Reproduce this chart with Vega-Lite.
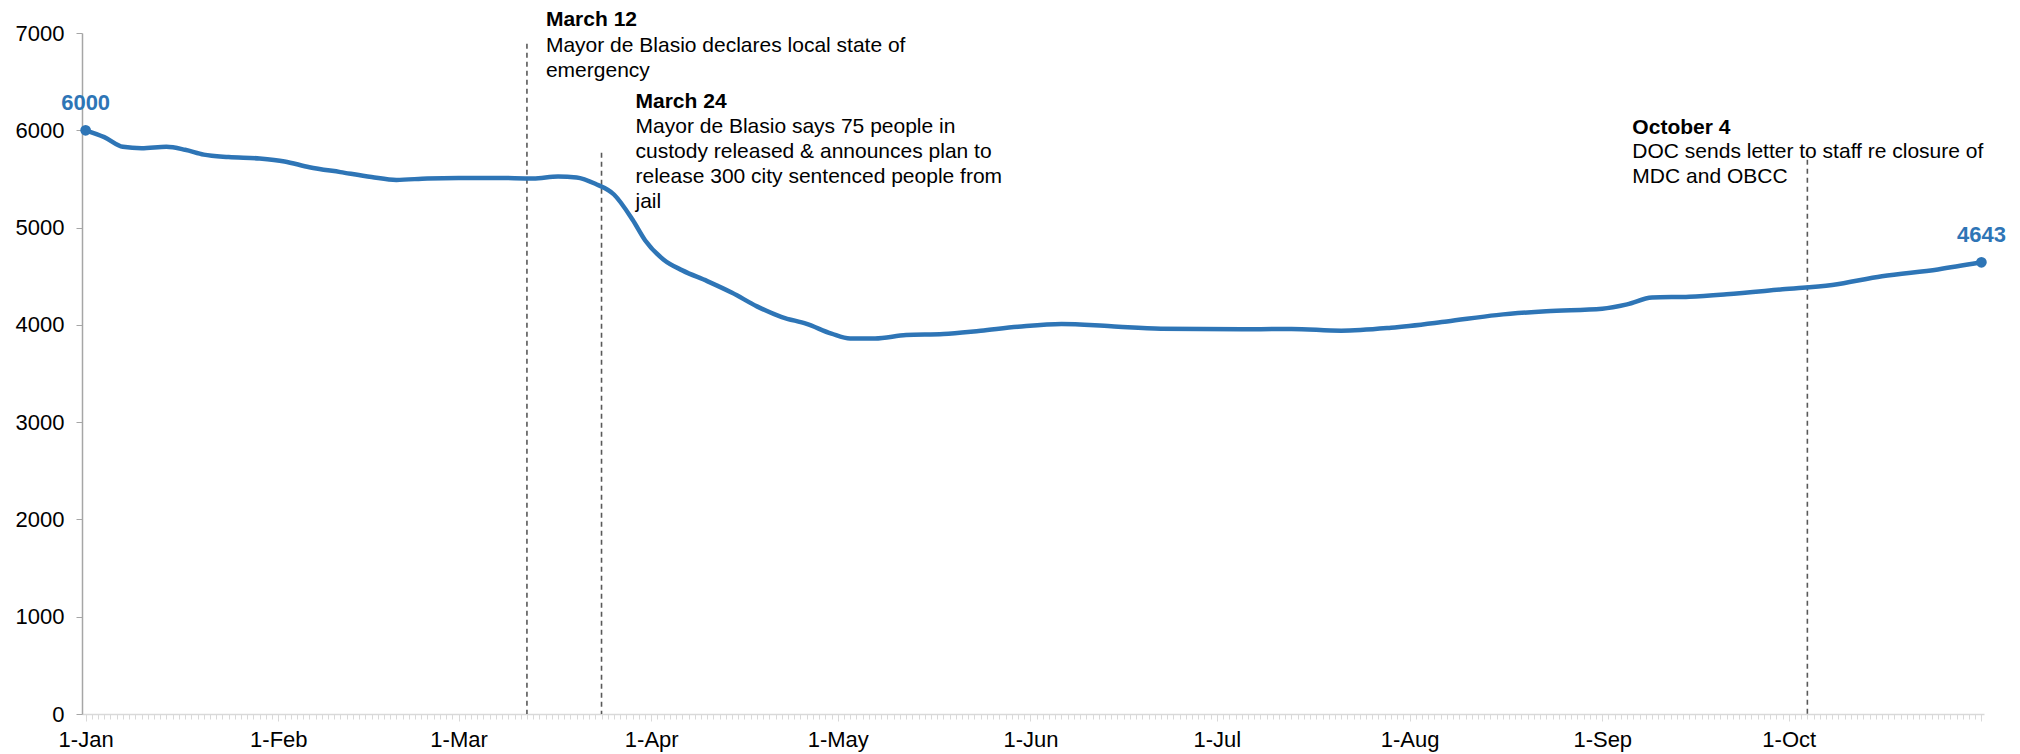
{
  "$schema": "https://vega.github.io/schema/vega-lite/v6.json",
  "autosize": {"type": "none"},
  "padding": {"left": 82, "top": 33, "right": 36, "bottom": 40},
  "width": 1902,
  "height": 681,
  "background": "white",
  "config": {"view": {"stroke": null}, "font": "Liberation Sans"},
  "datasets": {
    "series": [
      {"date": "2020-01-01", "count": 6000},
      {"date": "2020-01-04", "count": 5930},
      {"date": "2020-01-07", "count": 5830},
      {"date": "2020-01-10", "count": 5815},
      {"date": "2020-01-14", "count": 5830},
      {"date": "2020-01-17", "count": 5800},
      {"date": "2020-01-20", "count": 5750},
      {"date": "2020-01-24", "count": 5725},
      {"date": "2020-01-29", "count": 5710},
      {"date": "2020-02-02", "count": 5680},
      {"date": "2020-02-06", "count": 5620},
      {"date": "2020-02-11", "count": 5570},
      {"date": "2020-02-16", "count": 5520},
      {"date": "2020-02-20", "count": 5490},
      {"date": "2020-02-25", "count": 5505},
      {"date": "2020-03-01", "count": 5510},
      {"date": "2020-03-07", "count": 5510},
      {"date": "2020-03-13", "count": 5505},
      {"date": "2020-03-17", "count": 5525},
      {"date": "2020-03-20", "count": 5515},
      {"date": "2020-03-23", "count": 5450},
      {"date": "2020-03-26", "count": 5340},
      {"date": "2020-03-29", "count": 5080},
      {"date": "2020-03-31", "count": 4870},
      {"date": "2020-04-03", "count": 4670},
      {"date": "2020-04-06", "count": 4560},
      {"date": "2020-04-10", "count": 4450},
      {"date": "2020-04-14", "count": 4330},
      {"date": "2020-04-18", "count": 4190},
      {"date": "2020-04-22", "count": 4080},
      {"date": "2020-04-26", "count": 4010},
      {"date": "2020-04-30", "count": 3910},
      {"date": "2020-05-03", "count": 3860},
      {"date": "2020-05-07", "count": 3860},
      {"date": "2020-05-12", "count": 3895},
      {"date": "2020-05-18", "count": 3905},
      {"date": "2020-05-24", "count": 3940},
      {"date": "2020-05-30", "count": 3980},
      {"date": "2020-06-06", "count": 4010},
      {"date": "2020-06-14", "count": 3985},
      {"date": "2020-06-22", "count": 3960},
      {"date": "2020-07-05", "count": 3955},
      {"date": "2020-07-13", "count": 3958},
      {"date": "2020-07-21", "count": 3940},
      {"date": "2020-07-29", "count": 3970},
      {"date": "2020-08-07", "count": 4035},
      {"date": "2020-08-15", "count": 4100},
      {"date": "2020-08-23", "count": 4140},
      {"date": "2020-09-01", "count": 4165},
      {"date": "2020-09-05", "count": 4210},
      {"date": "2020-09-09", "count": 4280},
      {"date": "2020-09-15", "count": 4290},
      {"date": "2020-09-21", "count": 4315},
      {"date": "2020-09-30", "count": 4365},
      {"date": "2020-10-08", "count": 4410},
      {"date": "2020-10-16", "count": 4500},
      {"date": "2020-10-25", "count": 4570},
      {"date": "2020-11-01", "count": 4643}
    ],
    "ends": [
      {"date": "2020-01-01", "count": 6000, "label": "6000"},
      {"date": "2020-11-01", "count": 4643, "label": "4643"}
    ],
    "events": [
      {"event": "March 12", "date": "2020-03-12", "top": 6890, "body": ["Mayor de Blasio declares local state of", "emergency"]},
      {"event": "March 24", "date": "2020-03-24", "top": 5770, "body": ["Mayor de Blasio says 75 people in", "custody released & announces plan to", "release 300 city sentenced people from", "jail"]},
      {"event": "October 4", "date": "2020-10-04", "top": 5790, "body": ["DOC sends letter to staff re closure of", "MDC and OBCC"]}
    ]
  },
  "encoding": {
    "x": {
      "field": "date",
      "type": "temporal",
      "scale": {
        "type": "utc",
        "domain": [
          {"year": 2019, "month": 12, "date": 31, "hours": 10, "utc": true},
          {"year": 2020, "month": 11, "date": 1, "hours": 10, "utc": true}
        ]
      },
      "axis": {
        "title": null,
        "grid": false,
        "tickCount": {"interval": "day", "step": 1},
        "labelExpr": "utcdate(datum.value) == 1 && utcmonth(datum.value) < 10 ? utcFormat(datum.value, '%-d-%b') : ''",
        "labelOverlap": false,
        "labelFlush": false,
        "labelBound": false,
        "labelFontSize": 22,
        "labelColor": "#000000",
        "labelPadding": 8,
        "domainColor": "#d9d9d9",
        "domainWidth": 1.5,
        "tickColor": "#d9d9d9",
        "tickWidth": 1,
        "tickSize": {"condition": {"test": "utcdate(datum.value) == 1", "value": 7}, "value": 5}
      }
    },
    "y": {
      "field": "count",
      "type": "quantitative",
      "scale": {"domain": [0, 7000], "nice": false, "zero": true},
      "axis": {
        "title": null,
        "grid": false,
        "values": [0, 1000, 2000, 3000, 4000, 5000, 6000, 7000],
        "format": "d",
        "labelFontSize": 22,
        "labelColor": "#000000",
        "labelPadding": 12,
        "domainColor": "#a6a6a6",
        "domainWidth": 1.5,
        "tickColor": "#a6a6a6",
        "tickSize": 6
      }
    }
  },
  "layer": [
    {
      "data": {"name": "events"},
      "mark": {"type": "rule", "color": "#595959", "strokeDash": [5, 4], "strokeWidth": 1.6},
      "encoding": {
        "x": {"field": "date", "type": "temporal"},
        "y": {"field": "top", "type": "quantitative"},
        "y2": {"datum": 0}
      }
    },
    {
      "data": {"name": "series"},
      "mark": {"type": "line", "color": "#2E75B6", "strokeWidth": 4.5, "interpolate": "monotone"}
    },
    {
      "data": {"name": "ends"},
      "mark": {"type": "circle", "color": "#2E75B6", "size": 115, "opacity": 1}
    },
    {
      "data": {"name": "ends"},
      "mark": {"type": "text", "color": "#2E75B6", "fontWeight": "bold", "fontSize": 22, "align": "center", "baseline": "alphabetic", "dy": -20},
      "encoding": {"text": {"field": "label"}}
    },
    {
      "data": {"name": "events"},
      "transform": [{"filter": "datum.event == 'March 12'"}],
      "mark": {"type": "text", "fontWeight": "bold", "fontSize": 21, "align": "left", "baseline": "alphabetic", "dx": 19, "dy": -18, "color": "#000000"},
      "encoding": {"y": {"field": "top", "type": "quantitative"}, "text": {"field": "event"}}
    },
    {
      "data": {"name": "events"},
      "transform": [{"filter": "datum.event == 'March 12'"}],
      "mark": {"type": "text", "fontSize": 21, "lineHeight": 25, "align": "left", "baseline": "alphabetic", "dx": 19, "dy": 8, "color": "#000000"},
      "encoding": {"y": {"field": "top", "type": "quantitative"}, "text": {"field": "body"}}
    },
    {
      "data": {"name": "events"},
      "transform": [{"filter": "datum.event == 'March 24'"}],
      "mark": {"type": "text", "fontWeight": "bold", "fontSize": 21, "align": "left", "baseline": "alphabetic", "dx": 34, "dy": -45, "color": "#000000"},
      "encoding": {"y": {"field": "top", "type": "quantitative"}, "text": {"field": "event"}}
    },
    {
      "data": {"name": "events"},
      "transform": [{"filter": "datum.event == 'March 24'"}],
      "mark": {"type": "text", "fontSize": 21, "lineHeight": 25, "align": "left", "baseline": "alphabetic", "dx": 34, "dy": -20, "color": "#000000"},
      "encoding": {"y": {"field": "top", "type": "quantitative"}, "text": {"field": "body"}}
    },
    {
      "data": {"name": "events"},
      "transform": [{"filter": "datum.event == 'October 4'"}],
      "mark": {"type": "text", "fontWeight": "bold", "fontSize": 21, "align": "left", "baseline": "alphabetic", "dx": -175, "dy": -17, "color": "#000000"},
      "encoding": {"y": {"field": "top", "type": "quantitative"}, "text": {"field": "event"}}
    },
    {
      "data": {"name": "events"},
      "transform": [{"filter": "datum.event == 'October 4'"}],
      "mark": {"type": "text", "fontSize": 21, "lineHeight": 25, "align": "left", "baseline": "alphabetic", "dx": -175, "dy": 7, "color": "#000000"},
      "encoding": {"y": {"field": "top", "type": "quantitative"}, "text": {"field": "body"}}
    }
  ]
}
